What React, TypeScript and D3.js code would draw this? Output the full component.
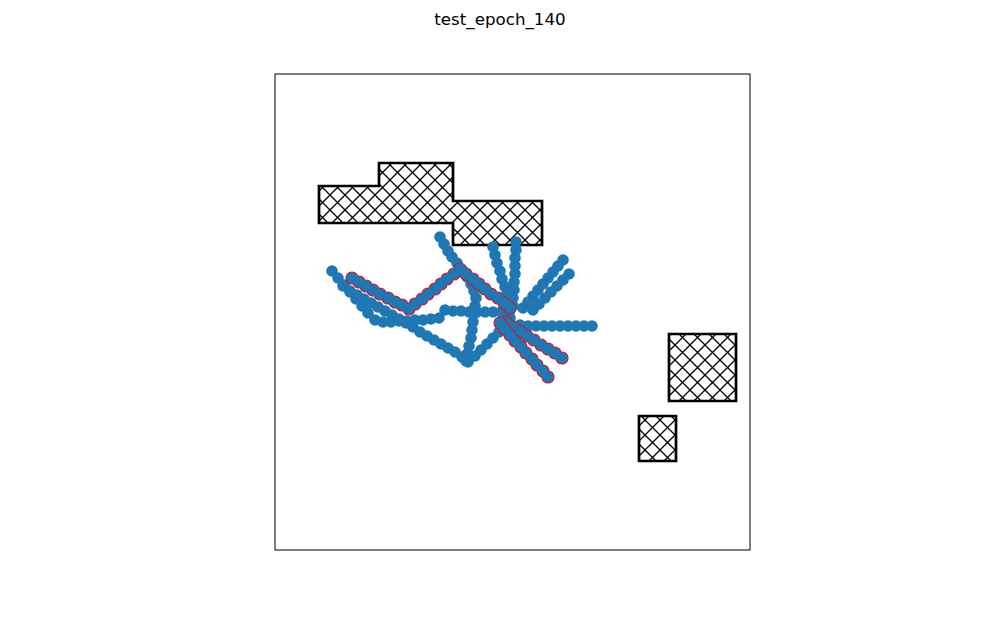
import React, { useEffect, useRef } from 'react';
import * as d3 from 'd3';

// chart title
const title = 'test_epoch_140';

// obstacles (data units, y up)
const obstacleBig = [[44, 364], [104, 364], [104, 387], [178, 387], [178, 349], [267, 349], [267, 305], [178, 305], [178, 327], [44, 327]];
const obstacleSquare = [[394, 149], [461, 149], [461, 216], [394, 216]];
const obstacleSmall = [[364, 89], [401, 89], [401, 134], [364, 134]];
const obstacles = [obstacleBig, obstacleSquare, obstacleSmall];

// trajectories, each one a list of [x, y] positions
const trajA = [[57, 279], [63, 272], [69, 265], [75, 258], [81, 251], [87, 244], [93, 237], [100, 230], [108, 228], [116, 228], [124, 229], [132, 229], [140, 230], [148, 230], [156, 231], [164, 232], [170, 240], [178, 239], [186, 239], [194, 238], [202, 238], [210, 238], [218, 238], [226, 238], [234, 237]];
const trajB = [[68, 264], [75, 259], [82, 255], [89, 251], [96, 247], [103, 243], [110, 239], [117, 235], [124, 231], [131, 227], [138, 223], [145, 218], [152, 214], [159, 210], [166, 206], [173, 202], [180, 198], [187, 193], [193, 188], [200, 194], [206, 200], [212, 206], [218, 212], [224, 218], [230, 225], [235, 232]];
const trajC = [[165, 313], [169, 306], [173, 299], [177, 293], [182, 287], [187, 280], [192, 273], [196, 266], [199, 259], [201, 252], [200, 244], [199, 236], [198, 228], [197, 220], [196, 212], [194, 204], [192, 196], [191, 189]];
const trajD = [[218, 303], [220, 295], [222, 287], [225, 279], [227, 271], [230, 263], [232, 255], [235, 247]];
const trajE = [[241, 308], [241, 300], [240, 292], [240, 284], [240, 276], [239, 268], [239, 260], [238, 252], [238, 244]];
const trajF = [[288, 290], [283, 284], [278, 278], [273, 272], [268, 266], [263, 260], [258, 254], [253, 248], [248, 242]];
const trajG = [[294, 276], [288, 270], [282, 264], [276, 258], [270, 252], [264, 246], [258, 240]];
const trajH = [[317, 224], [309, 224], [301, 224], [293, 224], [285, 224], [277, 224], [269, 224], [261, 224], [253, 224], [245, 225]];
// collided trajectories (red edge)
const trajR1 = [[77, 272], [84, 268], [91, 264], [98, 260], [105, 256], [113, 252], [120, 248], [127, 245], [134, 241], [140, 246], [147, 251], [153, 256], [160, 261], [166, 266], [172, 271], [179, 276], [185, 281], [191, 276], [198, 271], [204, 266], [210, 261], [216, 256], [223, 252], [229, 247], [235, 242]];
const trajR2 = [[287, 192], [280, 197], [273, 201], [266, 205], [259, 210], [252, 214], [245, 219], [238, 223], [231, 228]];
const trajR3 = [[273, 173], [268, 179], [262, 185], [257, 191], [251, 197], [246, 203], [240, 209], [235, 215], [230, 221], [225, 227]];

const okTrajs = [trajA, trajB, trajC, trajD, trajE, trajF, trajG, trajH];
const hitTrajs = [trajR1, trajR2, trajR3];

function App() {
  const svgRef = useRef(null);

  useEffect(() => {
    const width = 1000;
    const height = 618;
    const svg = d3.select(svgRef.current);
    svg.selectAll('*').remove();

    const x = d3.scaleLinear().domain([0, 475]).range([275, 750]);
    const y = d3.scaleLinear().domain([0, 476]).range([550, 74]);

    // hatch pattern like matplotlib 'x'
    const P = 15;
    const defs = svg.append('defs');
    defs.append('pattern')
      .attr('id', 'hatchx')
      .attr('patternUnits', 'userSpaceOnUse')
      .attr('width', P)
      .attr('height', P)
      .append('path')
      .attr('d', `M0,0L${P},${P}M${P},0L0,${P}`)
      .attr('stroke', 'black')
      .attr('stroke-width', 1.3)
      .attr('fill', 'none');

    svg.append('rect')
      .attr('width', width).attr('height', height).attr('fill', 'white');

    const line = d3.line().x(d => x(d[0])).y(d => y(d[1]));

    // obstacles
    obstacles.forEach(o => {
      svg.append('path')
        .attr('d', line(o) + 'Z')
        .attr('fill', 'url(#hatchx)')
        .attr('stroke', 'black')
        .attr('stroke-width', 2.7);
    });

    const blue = '#1f77b4';
    const dots = (t, r, color) => {
      svg.append('g').selectAll('circle')
        .data(t).enter().append('circle')
        .attr('cx', d => x(d[0]))
        .attr('cy', d => y(d[1]))
        .attr('r', r)
        .attr('fill', color);
    };

    okTrajs.forEach(t => dots(t, 5.8, blue));
    // collided ones: red ring underneath, blue on top
    hitTrajs.forEach(t => {
      dots(t, 6.6, 'red');
      dots(t, 5.8, blue);
    });

    svg.append('rect')
      .attr('x', x(0)).attr('y', y(476))
      .attr('width', x(475) - x(0)).attr('height', y(0) - y(476))
      .attr('fill', 'none')
      .attr('stroke', 'black')
      .attr('stroke-width', 1);

    svg.append('text')
      .attr('x', 500)
      .attr('y', 25)
      .attr('text-anchor', 'middle')
      .attr('font-family', 'DejaVu Sans')
      .attr('font-size', 16.7)
      .text(title);
  }, []);

  return (
    <div>
      <svg ref={svgRef} width={1000} height={618} style={{ position: 'absolute', left: 0, top: 0, display: 'block' }}></svg>
    </div>
  );
}

export default App;
